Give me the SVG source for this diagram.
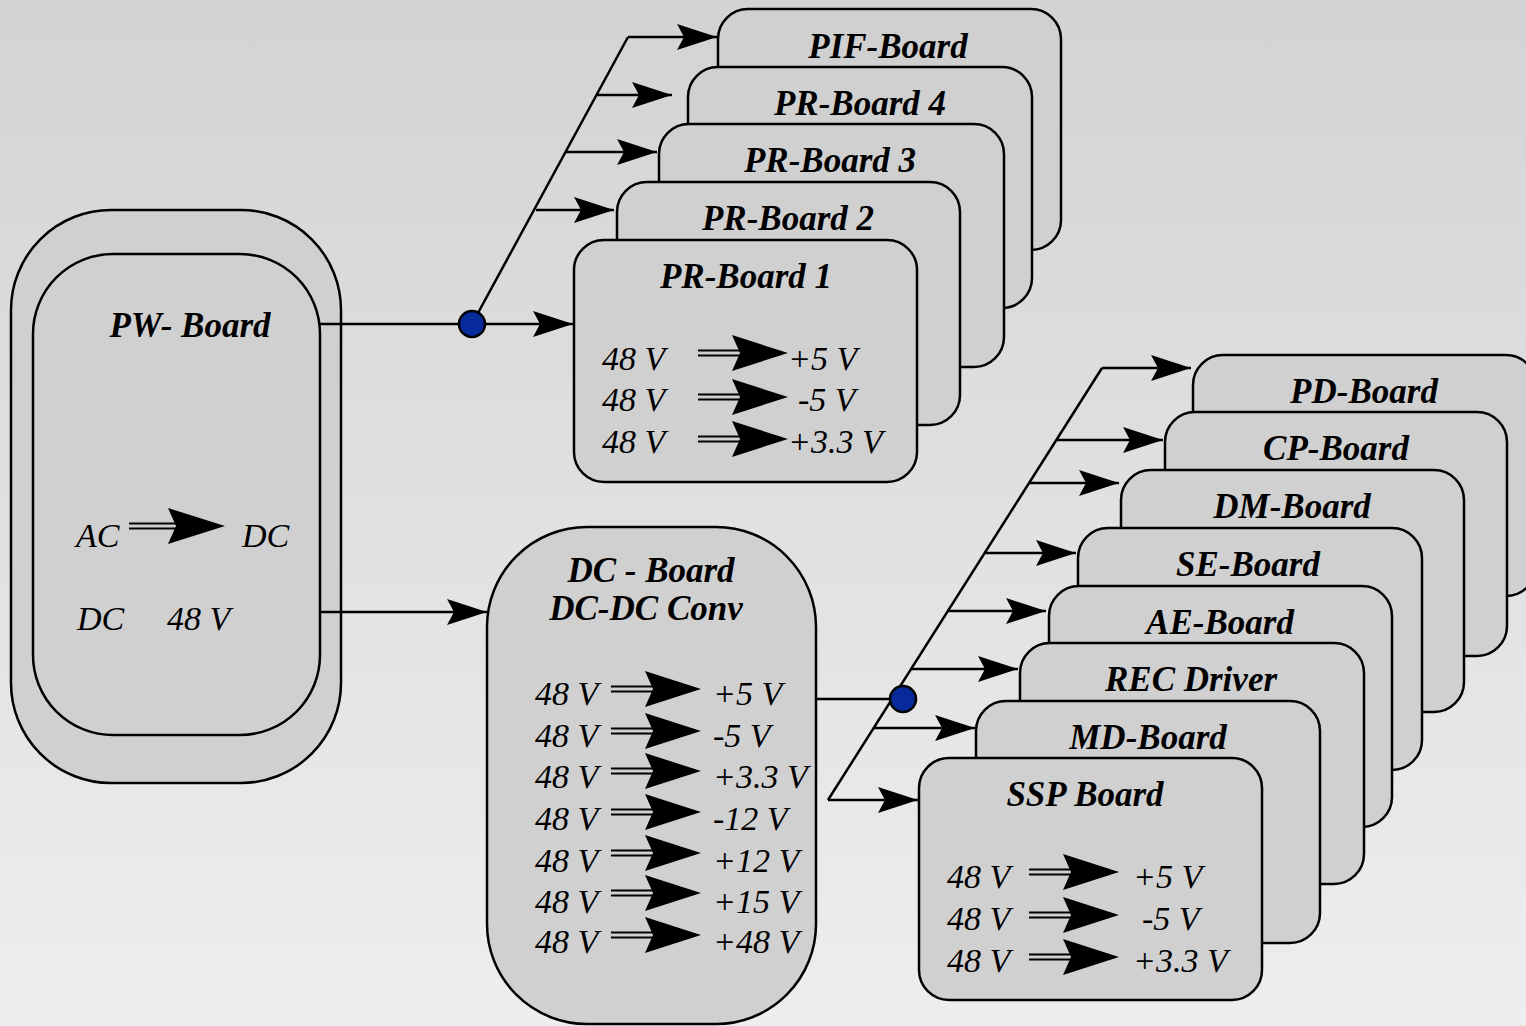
<svg xmlns="http://www.w3.org/2000/svg" xmlns:xlink="http://www.w3.org/1999/xlink" width="1526" height="1026" viewBox="0 0 1526 1026">
<defs>
<linearGradient id="bg" x1="0" y1="0" x2="0" y2="1">
<stop offset="0" stop-color="#d3d3d3"/>
<stop offset="1" stop-color="#eeeeee"/>
</linearGradient>
<marker id="ah" viewBox="0 0 40 28" refX="40" refY="14" markerWidth="40" markerHeight="28" markerUnits="userSpaceOnUse" orient="auto">
<path d="M0,1 L40,14 L0,27 L7,14 Z" fill="#000"/>
</marker>
<g id="conv">
<line x1="-34" y1="-2.5" x2="10" y2="-2.5" stroke="#000" stroke-width="2"/>
<line x1="-34" y1="2.5" x2="10" y2="2.5" stroke="#000" stroke-width="2"/>
<path d="M0,-18 L56,0 L0,18 L8,0 Z" fill="#000"/>
</g>
<style>
.box{fill:#d0d0d0;stroke:#000;stroke-width:2.5}
.lbl{font-family:"Liberation Serif","Times New Roman",serif;font-weight:bold;font-style:italic;font-size:35px;fill:#000;text-anchor:middle}
.txt{font-family:"Liberation Serif","Times New Roman",serif;font-style:italic;font-size:34px;fill:#000}
.con{stroke:#000;stroke-width:2.5;fill:none}
.dot{fill:#062a9c;stroke:#000;stroke-width:2.5}
</style>
</defs>
<rect x="0" y="0" width="1526" height="1026" fill="url(#bg)"/>

<g id="pw-board">
<rect class="box" x="11" y="210" width="330" height="573" rx="100" ry="100"/>
<rect class="box" x="33" y="254" width="287" height="481" rx="80" ry="80"/>
<text class="lbl" x="190" y="337">PW- Board</text>
<text class="txt" x="76" y="547">AC</text>
<g transform="translate(168,526)">
<line x1="-39" y1="-2.5" x2="10" y2="-2.5" stroke="#000" stroke-width="2"/>
<line x1="-39" y1="2.5" x2="10" y2="2.5" stroke="#000" stroke-width="2"/>
<path d="M0,-18 L57,0 L0,18 L8,0 Z" fill="#000"/>
</g>
<text class="txt" x="242" y="547">DC</text>
<text class="txt" x="77" y="630">DC</text>
<text class="txt" x="167" y="630">48 V</text>
</g>

<g id="pif-board">
<rect class="box" x="718" y="9" width="343" height="241" rx="30" ry="30"/>
<text class="lbl" x="888" y="58">PIF-Board</text>
</g>
<g id="pr-board-4">
<rect class="box" x="688" y="67" width="344" height="241" rx="30" ry="30"/>
<text class="lbl" x="860" y="115">PR-Board 4</text>
</g>
<g id="pr-board-3">
<rect class="box" x="659" y="124" width="345" height="243" rx="30" ry="30"/>
<text class="lbl" x="830" y="172">PR-Board 3</text>
</g>
<g id="pr-board-2">
<rect class="box" x="617" y="182" width="343" height="243" rx="30" ry="30"/>
<text class="lbl" x="788" y="230">PR-Board 2</text>
</g>
<g id="pr-board-1">
<rect class="box" x="574" y="240" width="343" height="242" rx="30" ry="30"/>
<text class="lbl" x="746" y="288">PR-Board 1</text>
<text class="txt" x="602" y="370">48 V</text>
<text class="txt" x="602" y="411">48 V</text>
<text class="txt" x="602" y="453">48 V</text>
<use xlink:href="#conv" href="#conv" x="732" y="353"/>
<use xlink:href="#conv" href="#conv" x="732" y="397"/>
<use xlink:href="#conv" href="#conv" x="732" y="439"/>
<text class="txt" x="788" y="370">+5 V</text>
<text class="txt" x="798" y="411">-5 V</text>
<text class="txt" x="788" y="453">+3.3 V</text>
</g>

<g id="dc-board">
<rect class="box" x="487" y="527" width="329" height="497" rx="100" ry="100"/>
<text class="lbl" x="651" y="582">DC - Board</text>
<text class="lbl" x="646" y="620">DC-DC Conv</text>
<text class="txt" x="535" y="705">48 V</text>
<text class="txt" x="535" y="747">48 V</text>
<text class="txt" x="535" y="788">48 V</text>
<text class="txt" x="535" y="830">48 V</text>
<text class="txt" x="535" y="872">48 V</text>
<text class="txt" x="535" y="913">48 V</text>
<text class="txt" x="535" y="953">48 V</text>
<use xlink:href="#conv" href="#conv" x="645" y="689"/>
<use xlink:href="#conv" href="#conv" x="645" y="731"/>
<use xlink:href="#conv" href="#conv" x="645" y="771"/>
<use xlink:href="#conv" href="#conv" x="645" y="812"/>
<use xlink:href="#conv" href="#conv" x="645" y="853"/>
<use xlink:href="#conv" href="#conv" x="645" y="893"/>
<use xlink:href="#conv" href="#conv" x="645" y="935"/>
<text class="txt" x="713" y="705">+5 V</text>
<text class="txt" x="713" y="747">-5 V</text>
<text class="txt" x="713" y="788">+3.3 V</text>
<text class="txt" x="713" y="830">-12 V</text>
<text class="txt" x="713" y="872">+12 V</text>
<text class="txt" x="713" y="913">+15 V</text>
<text class="txt" x="713" y="953">+48 V</text>
</g>

<g id="pd-board">
<rect class="box" x="1193" y="355" width="343" height="241" rx="30" ry="30" stroke="#0b3838"/>
<text class="lbl" x="1364" y="403">PD-Board</text>
</g>
<g id="cp-board">
<rect class="box" x="1165" y="412" width="342" height="244" rx="30" ry="30"/>
<text class="lbl" x="1336" y="460">CP-Board</text>
</g>
<g id="dm-board">
<rect class="box" x="1121" y="470" width="343" height="242" rx="30" ry="30"/>
<text class="lbl" x="1292" y="518">DM-Board</text>
</g>
<g id="se-board">
<rect class="box" x="1078" y="528" width="344" height="242" rx="30" ry="30"/>
<text class="lbl" x="1248" y="576">SE-Board</text>
</g>
<g id="ae-board">
<rect class="box" x="1049" y="586" width="343" height="241" rx="30" ry="30"/>
<text class="lbl" x="1220" y="634">AE-Board</text>
</g>
<g id="rec-driver">
<rect class="box" x="1020" y="643" width="344" height="241" rx="30" ry="30"/>
<text class="lbl" x="1191" y="691">REC Driver</text>
</g>
<g id="md-board">
<rect class="box" x="976" y="701" width="344" height="242" rx="30" ry="30"/>
<text class="lbl" x="1148" y="749">MD-Board</text>
</g>
<g id="ssp-board">
<rect class="box" x="919" y="758" width="343" height="242" rx="30" ry="30"/>
<text class="lbl" x="1085" y="806">SSP Board</text>
<text class="txt" x="947" y="888">48 V</text>
<text class="txt" x="947" y="930">48 V</text>
<text class="txt" x="947" y="972">48 V</text>
<use xlink:href="#conv" href="#conv" x="1063" y="872"/>
<use xlink:href="#conv" href="#conv" x="1063" y="915"/>
<use xlink:href="#conv" href="#conv" x="1063" y="957"/>
<text class="txt" x="1133" y="888">+5 V</text>
<text class="txt" x="1142" y="930">-5 V</text>
<text class="txt" x="1133" y="972">+3.3 V</text>
</g>

<g id="connectors">
<line class="con" x1="320" y1="324" x2="573" y2="324" marker-end="url(#ah)"/>
<line class="con" x1="472" y1="324" x2="628" y2="37"/>
<line class="con" x1="628" y1="37" x2="717" y2="37" marker-end="url(#ah)"/>
<line class="con" x1="597" y1="95" x2="672" y2="95" marker-end="url(#ah)"/>
<line class="con" x1="566" y1="152" x2="657" y2="152" marker-end="url(#ah)"/>
<line class="con" x1="536" y1="210" x2="614" y2="210" marker-end="url(#ah)"/>

<line class="con" x1="320" y1="612" x2="487" y2="612" marker-end="url(#ah)"/>
<line class="con" x1="816" y1="699" x2="903" y2="699"/>
<line class="con" x1="828" y1="800" x2="1102" y2="368"/>
<line class="con" x1="828" y1="800" x2="918" y2="800" marker-end="url(#ah)"/>
<line class="con" x1="873" y1="728" x2="975" y2="728" marker-end="url(#ah)"/>
<line class="con" x1="911" y1="669" x2="1018" y2="669" marker-end="url(#ah)"/>
<line class="con" x1="947" y1="611" x2="1046" y2="611" marker-end="url(#ah)"/>
<line class="con" x1="984" y1="553" x2="1076" y2="553" marker-end="url(#ah)"/>
<line class="con" x1="1029" y1="483" x2="1119" y2="483" marker-end="url(#ah)"/>
<line class="con" x1="1057" y1="440" x2="1163" y2="440" marker-end="url(#ah)"/>
<line class="con" x1="1102" y1="368" x2="1191" y2="368" marker-end="url(#ah)"/>

<circle class="dot" cx="472" cy="324" r="13"/>
<circle class="dot" cx="903" cy="699" r="13"/>
</g>
</svg>
